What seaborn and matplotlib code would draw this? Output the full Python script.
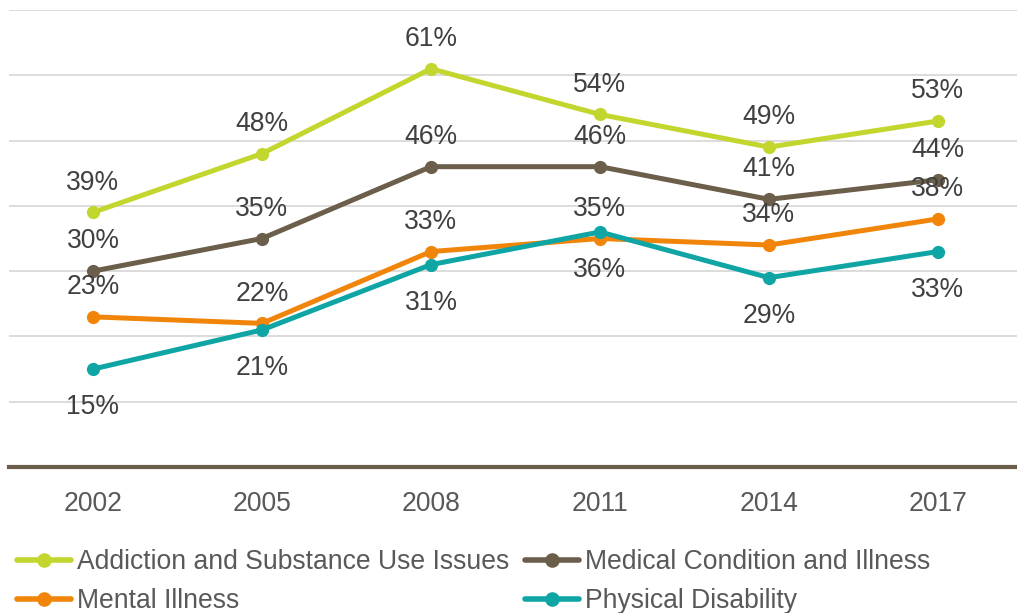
import matplotlib
matplotlib.use("Agg")
import matplotlib.pyplot as plt
import seaborn as sns
import pandas as pd

years = ["2002", "2005", "2008", "2011", "2014", "2017"]
addiction = [39, 48, 61, 54, 49, 53]
medical = [30, 35, 46, 46, 41, 44]
mental = [23, 22, 33, 35, 34, 38]
physical = [15, 21, 31, 36, 29, 33]

series_names = ["Addiction and Substance Use Issues", "Medical Condition and Illness",
                "Mental Illness", "Physical Disability"]
series_values = [addiction, medical, mental, physical]
colors = ["#C2D62E", "#6B5E4A", "#F0850A", "#0FA5A5"]
label_pos = ["above", "above", "above", "below"]

rows = []
for name, vals in zip(series_names, series_values):
    for y, v in zip(years, vals):
        rows.append({"Year": y, "Value": v, "Series": name})
df = pd.DataFrame(rows)

sns.set_theme(style="white")
plt.rcParams["font.family"] = ["Liberation Sans", "DejaVu Sans"]

FS = 19.1
fig = plt.figure(figsize=(10.17, 6.13), dpi=100)
ax = fig.add_axes([8.5 / 1017, 1 - 467 / 613, 1014 / 1017, (467 - 10) / 613])

sns.lineplot(data=df, x="Year", y="Value", hue="Series", hue_order=series_names,
             palette=colors, marker="o", markersize=9.5, markeredgewidth=0,
             linewidth=3.6, sort=False, ax=ax, legend=True)

ax.set_ylim(0, 70)
ax.set_xlim(-0.5, 5.5)
ax.set_yticks(range(0, 71, 10))
ax.yaxis.grid(True, color="#D9D9D9", linewidth=1.3)
ax.xaxis.grid(False)
ax.set_axisbelow(True)
for s in ["top", "right", "left"]:
    ax.spines[s].set_visible(False)
ax.spines["bottom"].set_color("#6B5E4A")
ax.spines["bottom"].set_linewidth(3)
ax.tick_params(axis="y", left=False, labelleft=False)
ax.tick_params(axis="x", bottom=False, labelsize=FS, labelcolor="#595959", pad=11)
ax.set_xlabel("")
ax.set_ylabel("")

for name, vals, pos in zip(series_names, series_values, label_pos):
    for i, v in enumerate(vals):
        dy = 21.5 if pos == "above" else -27.5
        ax.annotate(f"{v}%", (i, v), xytext=(0, dy), textcoords="offset points",
                    ha="center", va="center", fontsize=FS, color="#404040")

handles, labels = ax.get_legend_handles_labels()
ax.get_legend().remove()
order = [0, 2, 1, 3]
leg = fig.legend([handles[i] for i in order], [labels[i] for i in order],
                 ncol=2, loc="upper left", bbox_to_anchor=(17 / 1017, 1 - 549 / 613),
                 frameon=False, fontsize=FS, handlelength=2.05, handletextpad=0.2,
                 columnspacing=0.6, labelspacing=0.5, borderpad=0, borderaxespad=0)
for t in leg.get_texts():
    t.set_color("#595959")
for h in leg.legend_handles:
    h.set_markersize(10.5)
    h.set_linewidth(4)

fig.savefig("out.png", dpi=100)
